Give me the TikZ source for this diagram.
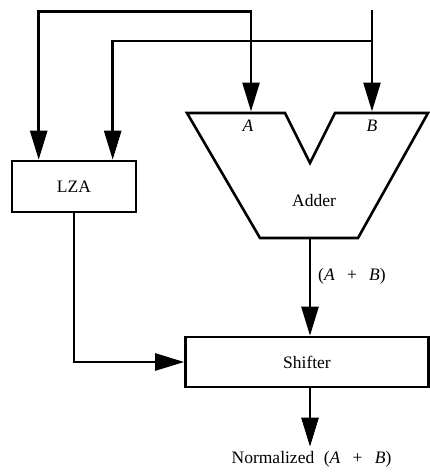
\documentclass[tikz,border=0pt]{standalone}
\usepackage{fontspec}
\setmainfont{Liberation Serif}
\usetikzlibrary{arrows.meta,calc}

\begin{document}
\begin{tikzpicture}[x=1pt, y=-1pt,
  block/.style={draw, line width=2.6pt, inner sep=0pt,
                font=\fontsize{17.5}{20}\selectfont},
  lab/.style={font=\fontsize{17.5}{20}\selectfont, inner sep=0pt},
  arr/.style={-{Triangle[length=29pt, width=17pt]}, line width=2.6pt},
  arrtwo/.style={{Triangle[length=29pt, width=17pt]}-{Triangle[length=29pt, width=17pt]},
                 line width=2.6pt},
]
\useasboundingbox (0,0) rectangle (430,472);

\node[block, minimum width=124pt, minimum height=51pt] (lza) at (74,186.5) {LZA};
\node[block, minimum width=243pt, minimum height=50pt] (shifter) at (307,362) {Shifter};

% ── Adder (trapezoid with notch) ────────────────────────────────────────
\draw[line width=2.6pt, line join=miter]
  (187,113) -- (285,113) -- (310,163) -- (335,113) -- (428,113)
  -- (358,238) -- (260,238) -- cycle;
\coordinate (adderA) at (251,111.5);
\coordinate (adderB) at (372,111.5);
\coordinate (adderout) at (310,238);
\node[lab] (addertxt) at (314,201) {Adder};
\node[lab, anchor=base] (labA) at (248,131) {\textit{A}};
\node[lab, anchor=base] (labB) at (372,131) {\textit{B}};

\node[lab, anchor=base west] (sumlab) at (318,280)
  {(\textit{A}\hspace{0.7em}+\hspace{0.7em}\textit{B})};
\node[lab, anchor=base, inner sep=4pt] (out) at (311.5,463)
  {Normalized\hspace{0.55em}(\textit{A}\hspace{0.7em}+\hspace{0.7em}\textit{B})};

% ── Edges ───────────────────────────────────────────────────────────────
\coordinate (inB) at (372,10);
\coordinate (jA) at (251,11.5);
\coordinate (jB) at (372,41);
\draw[arr] (inB) -- (adderB);
\draw[arr] (jB) -| ([xshift=102pt]lza.north west);
\draw[arrtwo, line join=miter] ([xshift=28pt]lza.north west) |- (jA) -- (adderA);
\draw[arr] (lza.south) |- (shifter.west);
\draw[arr] (adderout) -- (adderout |- shifter.north);
\draw[arr] (shifter.south -| adderout) -- (adderout |- out.north);

\end{tikzpicture}
\end{document}
